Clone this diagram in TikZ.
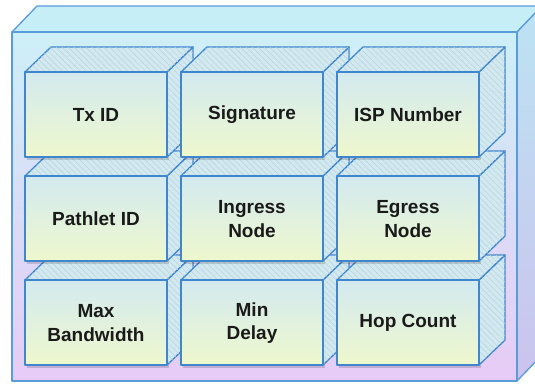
\documentclass[tikz,border=0pt]{standalone}
\usepackage{fontspec}
\setsansfont{Liberation Sans}
\usetikzlibrary{patterns.meta}

\definecolor{edgeblue}{HTML}{3F86CF}
\definecolor{outeredge}{HTML}{5A9BDA}
\definecolor{stripe}{HTML}{B6D2DD}
\definecolor{hatchbase}{HTML}{D2E9F0}
\definecolor{frontTop}{HTML}{D3EAF0}
\definecolor{frontBot}{HTML}{EEF8CD}
\definecolor{caseTop}{HTML}{C6EEF7}
\definecolor{caseFrontTop}{HTML}{CDEFF8}
\definecolor{caseFrontBot}{HTML}{E7CBF6}
\definecolor{caseSideTop}{HTML}{BCE3F3}
\definecolor{caseSideBot}{HTML}{CBC3EE}
\definecolor{inktext}{HTML}{1A1A1A}

\tikzset{
  x=1pt, y=-1pt,
  caseline/.style={draw=outeredge, line width=1.3pt, line join=round},
  hatchface/.style={draw=edgeblue, line width=1.3pt, line join=round,
    fill=hatchbase,
    postaction={pattern={Lines[angle=-45,distance=4.2pt,line width=0.5pt]},
                pattern color=stripe}},
  frontface/.style={draw=edgeblue, line width=1.3pt, line join=round,
    top color=frontTop, bottom color=frontBot},
  fieldtext/.style={font=\sffamily\bfseries\fontsize{19}{23.5}\selectfont,
    text=inktext, align=center},
}

% one field cube: name, left x, top y, text
\newcommand\fieldbox[4]{%
  \begin{scope}[shift={(#2,#3)}]
    \fill[black, opacity=0.15] (2,3) rectangle (144,88);
    \path[hatchface] (142,0) -- (168,-25) -- (168,60) -- (142,85) -- cycle;
    \path[hatchface] (0,0) -- (26,-25) -- (168,-25) -- (142,0) -- cycle;
    \path[frontface] (0,0) rectangle (142,85);
    \node[fieldtext] (#1) at (71,43) {#4};
  \end{scope}}

\begin{document}
\begin{tikzpicture}
  \useasboundingbox (0,0) rectangle (535,383);
  \fill[white] (0,0) rectangle (535,383);
  \clip (0,0) rectangle (535,383);

  % enclosing case
  \path[caseline, fill=caseTop] (12,32) -- (37,6) -- (542,6) -- (517,32) -- cycle;
  \path[caseline, top color=caseSideTop, bottom color=caseSideBot]
    (517,32) -- (542,6) -- (542,355) -- (517,381) -- cycle;
  \path[caseline, top color=caseFrontTop, bottom color=caseFrontBot]
    (12,32) rectangle (517,381);

  % bottom row
  \fieldbox{maxbw}{25}{280}{Max\\Bandwidth}
  \fieldbox{mindelay}{181}{280}{Min\\Delay}
  \fieldbox{hopcount}{337}{280}{Hop Count}
  % middle row
  \fieldbox{pathlet}{25}{176}{Pathlet ID}
  \fieldbox{ingress}{181}{176}{Ingress\\Node}
  \fieldbox{egress}{337}{176}{Egress\\Node}
  % top row
  \fieldbox{txid}{25}{72}{Tx ID}
  \fieldbox{signature}{181}{72}{Signature}
  \fieldbox{ispnum}{337}{72}{ISP Number}
\end{tikzpicture}
\end{document}
